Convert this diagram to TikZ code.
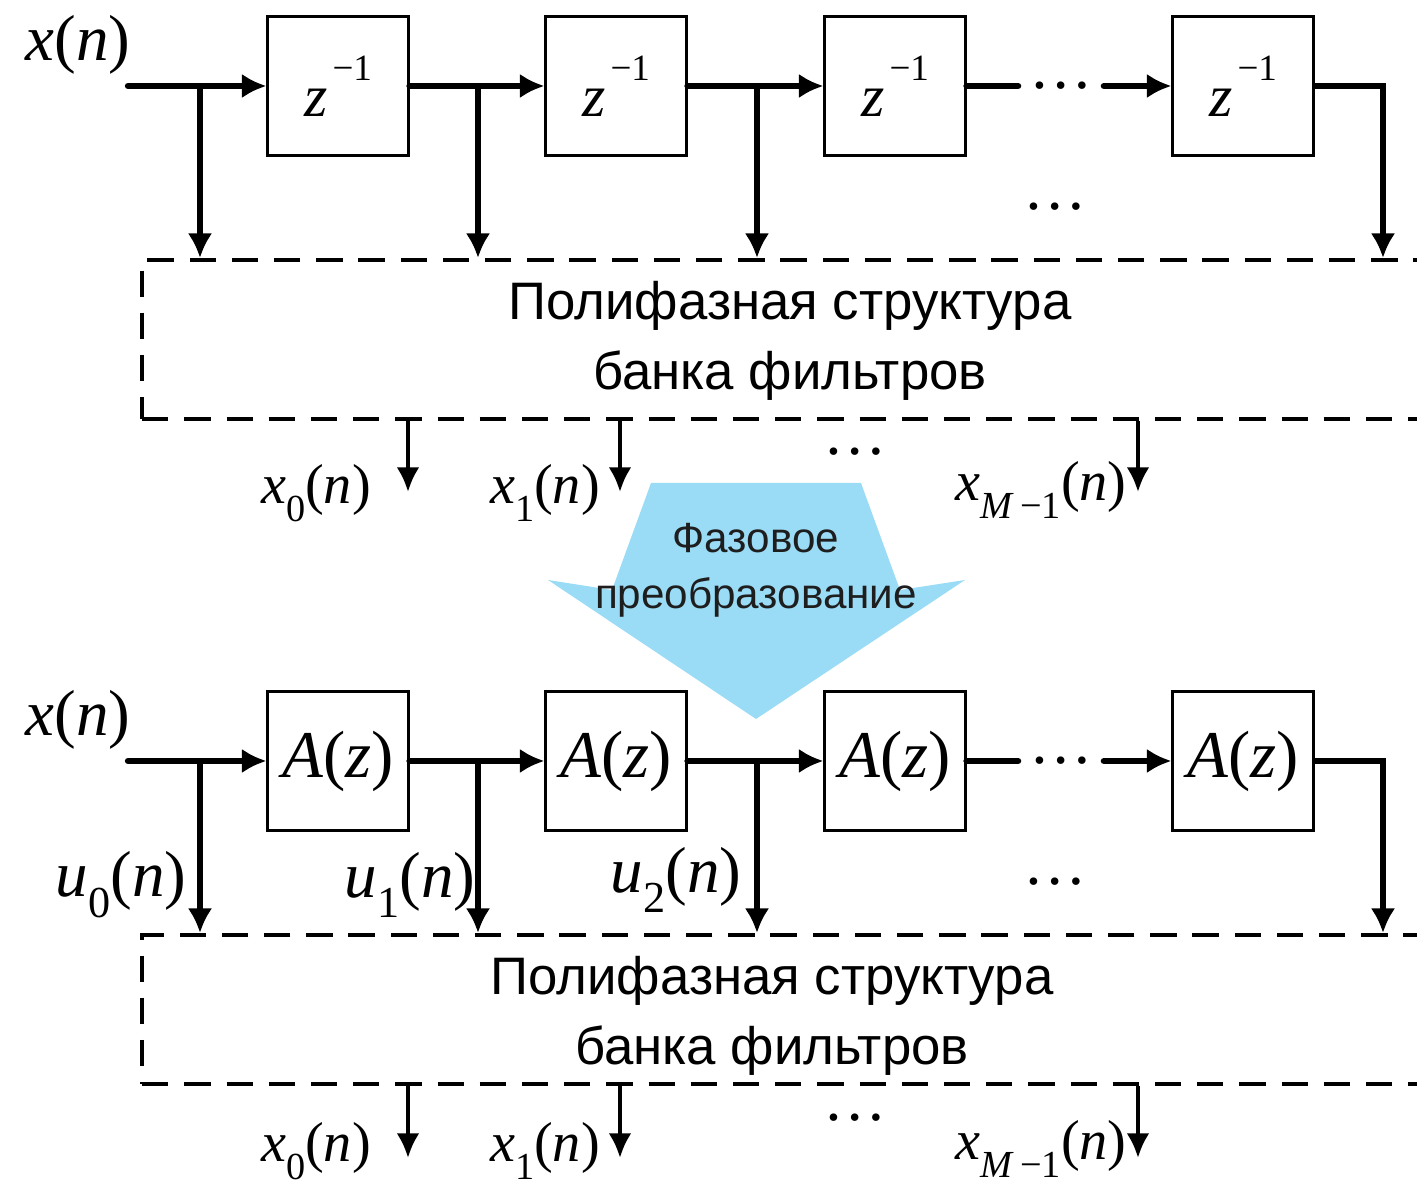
\documentclass[tikz,border=0pt]{standalone}
\usepackage{fontspec}
\setmainfont{Liberation Sans}
\newfontfamily\tmfont{Liberation Serif}
\usepackage{graphicx}
\usetikzlibrary{arrows.meta}

\definecolor{phaseblue}{HTML}{9ADCF6}
\definecolor{phasetext}{HTML}{1E1E1E}

\newcommand{\lowidx}[1]{\raisebox{-0.32em}{\scalebox{0.68}{#1}}}
\newcommand{\sig}[2]{\textit{#1}\lowidx{#2}(\textit{n})}
\newcommand{\zinv}{\textit{z}\kern1.5pt\raisebox{0.6em}{\scalebox{0.62}{−1}}}
\newcommand{\Az}{\textit{A}(\textit{z})}

\tikzset{
  delay/.style={draw, line width=0.85pt, minimum width=1.4cm, minimum height=1.39cm,
    inner sep=0pt, font=\tmfont\fontsize{17}{17}\selectfont},
  filt/.style={delay, font=\tmfont\fontsize{19}{19}\selectfont},
  bank/.style={draw, dash pattern=on 7.5pt off 4.5pt, line width=1.1pt,
    minimum width=13.07cm, inner sep=0pt},
  banktext/.style={align=center, font=\fontsize{15}{20}\selectfont},
  wire/.style={line width=1.8pt, line cap=round},
  sig/.style={wire, -{Latex[length=7pt,width=7pt]}},
  tap/.style={line width=1.5pt, -{Latex[length=7pt,width=7pt]}},
  outarr/.style={line width=1.2pt, -{Latex[length=7pt,width=6.5pt]}},
  lbl/.style={inner sep=0pt, font=\tmfont\fontsize{18.5}{18.5}\selectfont},
  outlbl/.style={inner sep=0pt, font=\tmfont\fontsize{16}{16}\selectfont},
  dotsnode/.style={inner sep=0pt, font=\tmfont\fontsize{18}{18}\selectfont},
}

\begin{document}
\begin{tikzpicture}[x=0.01cm, y=-0.01cm]
  \useasboundingbox (0,0) rectangle (1417,1189);
  \clip (0,0) rectangle (1417,1189);

  % Phase transform arrow (behind everything)
  \fill[phaseblue] (651,483) -- (861,483) -- (900,590) -- (965,580) -- (756,719)
    -- (548,580) -- (612,590) -- cycle;
  \node[font=\fontsize{12}{16}\selectfont, text=phasetext, align=center] (phase)
    at (756,570) {Фазовое\\преобразование};

  % Upper chain: delay line
  \node[lbl] (xinA) at (78,45) {\textit{x}(\textit{n})};
  \coordinate (inA) at (128,86);
  \node[delay] (dA1) at (338,86) {\zinv};
  \node[delay] (dA2) at (616,86) {\zinv};
  \node[delay] (dA3) at (895,86) {\zinv};
  \node[delay] (dA4) at (1243,86) {\zinv};
  \node[dotsnode, inner xsep=3pt] (dotsA) at (1061,86) {…};
  \node[dotsnode] (dotsA2) at (1055,207) {…};

  \node[bank, minimum height=1.59cm] (bankA) at (796,339.5) {};
  \node[banktext] (bankAtext) at (790,341) {Полифазная структура\\банка фильтров};

  \draw[sig] (inA) -- (dA1.west);
  \draw[sig] (dA1.east) -- (dA2.west);
  \draw[sig] (dA2.east) -- (dA3.west);
  \draw[wire] (dA3.east) -- (dotsA.west);
  \draw[sig] (dotsA.east) -- (dA4.west);

  % Taps into the filter bank
  \coordinate (tapA0) at (200,86);
  \coordinate (tapA1) at (478,86);
  \coordinate (tapA2) at (757,86);
  \coordinate (cornerA) at (1383,86);
  \draw[tap] (tapA0) -- (tapA0 |- bankA.north);
  \draw[tap] (tapA1) -- (tapA1 |- bankA.north);
  \draw[tap] (tapA2) -- (tapA2 |- bankA.north);
  \draw[tap, line width=1.7pt] (dA4.east) -- (cornerA) -- (cornerA |- bankA.north);

  % Outputs
  \coordinate (oA0) at (408,492);
  \coordinate (oA1) at (620,492);
  \coordinate (oA2) at (1138,492);
  \draw[outarr] (oA0 |- bankA.south) -- (oA0);
  \draw[outarr] (oA1 |- bankA.south) -- (oA1);
  \draw[outarr] (oA2 |- bankA.south) -- (oA2);
  \node[outlbl] (xA0) at (316,493) {\sig{x}{0}};
  \node[outlbl] (xA1) at (545,493) {\sig{x}{1}};
  \node[outlbl] (xA2) at (1041,490) {\sig{x}{\textit{M}\,−1}};
  \node[dotsnode] (dotsA3) at (855,452) {…};

  % Lower chain: allpass sections
  \node[lbl] (xinB) at (78,720) {\textit{x}(\textit{n})};
  \coordinate (inB) at (128,761);
  \node[delay, filt] (fB1) at (338,761) {\Az};
  \node[delay, filt] (fB2) at (616,761) {\Az};
  \node[delay, filt] (fB3) at (895,761) {\Az};
  \node[delay, filt] (fB4) at (1243,761) {\Az};
  \node[dotsnode, inner xsep=3pt] (dotsB) at (1061,761) {…};
  \node[dotsnode] (dotsB2) at (1055,882) {…};

  \node[bank, minimum height=1.49cm] (bankB) at (796,1009.5) {};
  \node[banktext] (bankBtext) at (772,1016) {Полифазная структура\\банка фильтров};

  \draw[sig] (inB) -- (fB1.west);
  \draw[sig] (fB1.east) -- (fB2.west);
  \draw[sig] (fB2.east) -- (fB3.west);
  \draw[wire] (fB3.east) -- (dotsB.west);
  \draw[sig] (dotsB.east) -- (fB4.west);

  \coordinate (tapB0) at (200,761);
  \coordinate (tapB1) at (478,761);
  \coordinate (tapB2) at (757,761);
  \coordinate (cornerB) at (1383,761);
  \draw[tap] (tapB0) -- (tapB0 |- bankB.north);
  \draw[tap] (tapB1) -- (tapB1 |- bankB.north);
  \draw[tap] (tapB2) -- (tapB2 |- bankB.north);
  \draw[tap, line width=1.7pt] (fB4.east) -- (cornerB) -- (cornerB |- bankB.north);
  \node[lbl] (uB0) at (121,885) {\sig{u}{0}};
  \node[lbl] (uB1) at (410,885) {\sig{u}{1}};
  \node[lbl] (uB2) at (676,880) {\sig{u}{2}};

  \coordinate (oB0) at (408,1158);
  \coordinate (oB1) at (620,1158);
  \coordinate (oB2) at (1138,1158);
  \draw[outarr] (oB0 |- bankB.south) -- (oB0);
  \draw[outarr] (oB1 |- bankB.south) -- (oB1);
  \draw[outarr] (oB2 |- bankB.south) -- (oB2);
  \node[outlbl] (xB0) at (316,1151) {\sig{x}{0}};
  \node[outlbl] (xB1) at (545,1151) {\sig{x}{1}};
  \node[outlbl] (xB2) at (1041,1149) {\sig{x}{\textit{M}\,−1}};
  \node[dotsnode] (dotsB3) at (855,1118) {…};
\end{tikzpicture}
\end{document}
